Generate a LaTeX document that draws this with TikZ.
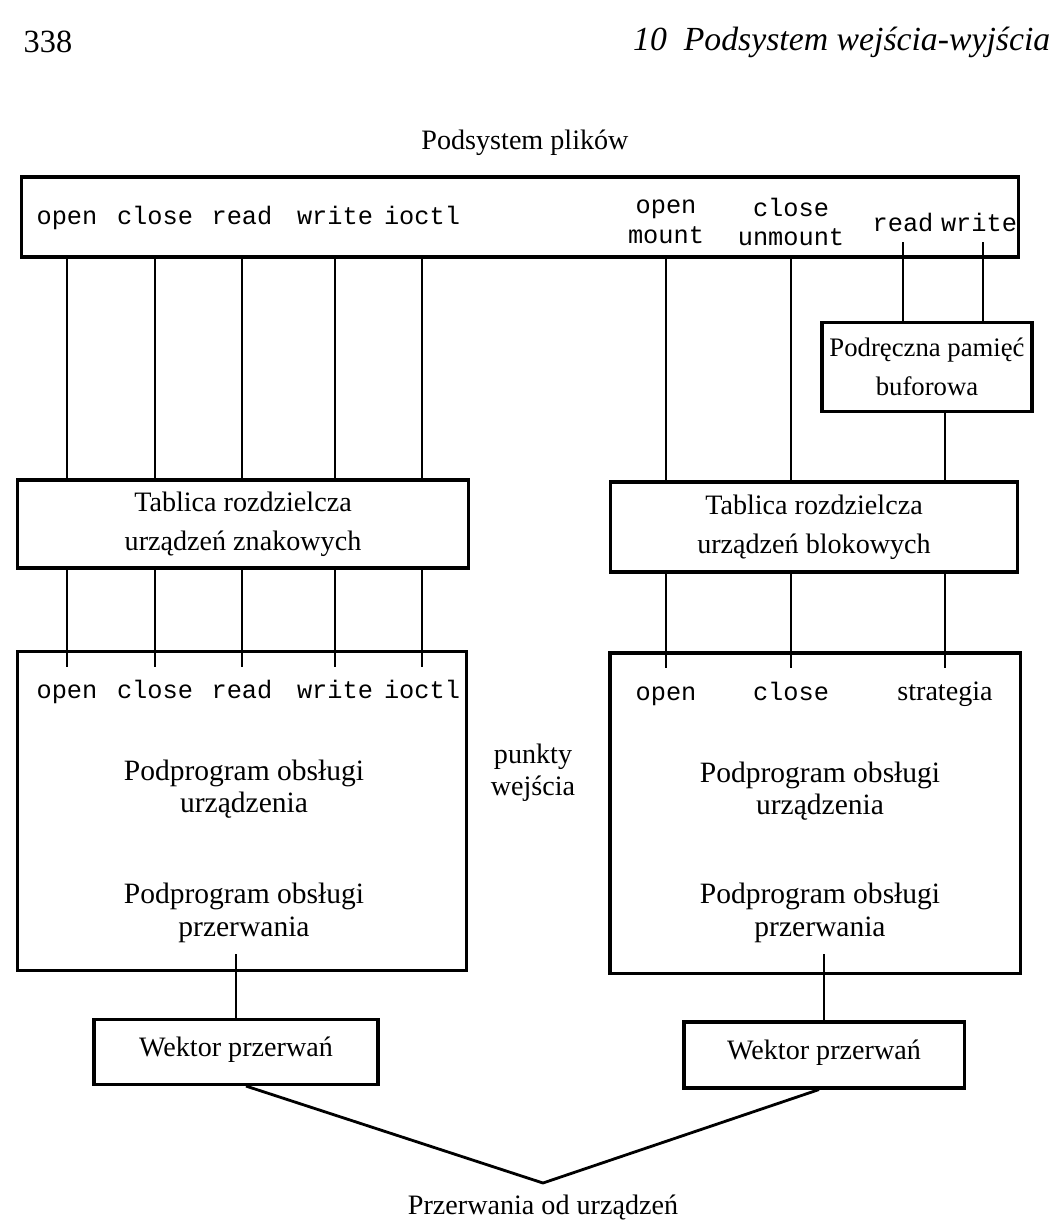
\documentclass[tikz,border=0pt]{standalone}
\usepackage{fontspec}
\setmainfont{Liberation Serif}
\setmonofont{Liberation Mono}
\usetikzlibrary{calc}

\begin{document}
\begin{tikzpicture}[x=0.025cm,y=-0.025cm]
            \tikzset{box/.style = {draw, line width=2.2pt, inner sep=0pt, align=center}}
            \tikzset{txt/.style = {font=\fontsize{20}{22}\selectfont, align=center, inner sep=1pt}}
            \tikzset{call/.style = {font=\ttfamily\fontsize{18}{21}\selectfont, inner sep=1pt, text height=1.6ex, text depth=0.4ex}}
            \tikzset{calls/.style = {font=\ttfamily\fontsize{18}{21}\selectfont, align=center, inner sep=1pt}}
            \tikzset{edge/.style = {-, line width=2pt}}

            \useasboundingbox (0,0) rectangle (1057,1222);

            % page head
            \node[txt, font=\fontsize{23}{25}\selectfont, anchor=west] (page) at (22,42) {338};
            \node[txt, font=\itshape\fontsize{24}{26}\selectfont, anchor=east] (head) at (1052,42) {10\enspace Podsystem wejścia-wyjścia};

            % boxes
            \node[txt] (fstxt) at (525,143) {Podsystem plików};
            \node[box, minimum width=24.9cm, minimum height=2cm] (fs) at (520,217) {};
            \node[box, txt, font=\fontsize{19}{28}\selectfont, minimum width=5.25cm, minimum height=2.225cm] (bc) at (927,367) {Podręczna pamięć\\buforowa};
            \node[box, txt, font=\fontsize{20}{28}\selectfont, minimum width=11.25cm, minimum height=2.2cm] (tz) at (243,524) {Tablica rozdzielcza\\urządzeń znakowych};
            \node[box, txt, font=\fontsize{20}{28}\selectfont, minimum width=10.175cm, minimum height=2.25cm] (tb) at (814,527) {Tablica rozdzielcza\\urządzeń blokowych};
            \node[box, minimum width=11.2cm, minimum height=7.975cm] (pz) at (242,811) {};
            \node[box, minimum width=10.25cm, minimum height=8cm] (pb) at (815,813) {};
            \node[box, txt, text height=1.6ex, text depth=0.3ex, minimum width=7.1cm, minimum height=1.625cm] (wz) at (236,1052) {Wektor przerwań};
            \node[box, txt, text height=1.6ex, text depth=0.3ex, minimum width=7cm, minimum height=1.65cm] (wb) at (824,1055) {Wektor przerwań};

            % texts in the driver boxes
            \node[txt, font=\fontsize{21}{23}\selectfont] (pzu) at (244,789) {Podprogram obsługi\\urządzenia};
            \node[txt, font=\fontsize{21}{23}\selectfont] (pzp) at (244,913) {Podprogram obsługi\\przerwania};
            \node[txt, font=\fontsize{21}{23}\selectfont] (pbu) at (820,791) {Podprogram obsługi\\urządzenia};
            \node[txt, font=\fontsize{21}{23}\selectfont] (pbp) at (820,913) {Podprogram obsługi\\przerwania};
            \node[txt, font=\fontsize{20}{23}\selectfont] (entry) at (533,773) {punkty\\wejścia};

            % character devices
            \foreach \n/\x in {open/67,close/155,read/242,write/335,ioctl/422}
            {
              \node[call] (a\n) at (\x,221) {\n};
              \node[call] (b\n) at (\x,695) {\n};
              \draw[edge] (a\n |- fs.south) -- (a\n |- tz.north);
              \draw[edge] (a\n |- tz.south) -- ($(a\n |- pz.north)+(0,17)$);
            }

            % block devices
            \foreach \n/\m/\x in {open/mount/666,close/unmount/791}
            {
              \node[calls] (c\n) at (\x,222) {\n\\\m};
              \node[call] (d\n) at (\x,697) {\n};
              \draw[edge] (c\n |- fs.south) -- (c\n |- tb.north);
              \draw[edge] (c\n |- tb.south) -- ($(c\n |- pb.north)+(0,17)$);
            }
            \node[call] (cread) at (903,228) {read};
            \node[call] (cwrite) at (979,228) {write};
            \draw[edge] ($(cread.south)+(0,6)$) -- (cread |- bc.north);
            \draw[edge] ($(cwrite.south)+(4,6)$) -- ($(cwrite |- bc.north)+(4,0)$);
            \node[txt, text height=1.5ex, text depth=0.5ex] (dstrat) at (945,697) {strategia};
            \draw[edge] (dstrat |- bc.south) -- (dstrat |- tb.north);
            \draw[edge] (dstrat |- tb.south) -- ($(dstrat |- pb.north)+(0,17)$);

            % interrupts
            \draw[edge] ($(wz.north |- pzp.south)+(0,10)$) -- (wz.north);
            \draw[edge] ($(wb.north |- pbp.south)+(0,10)$) -- (wb.north);
            \coordinate (irq) at (543,1183);
            \draw[edge] ($(wz.south)+(10,0)$) -- (irq) -- ($(wb.south)+(-5,0)$);
            \node[txt] (irqtxt) at (543,1207) {Przerwania od urządzeń};

          \end{tikzpicture}
\end{document}
